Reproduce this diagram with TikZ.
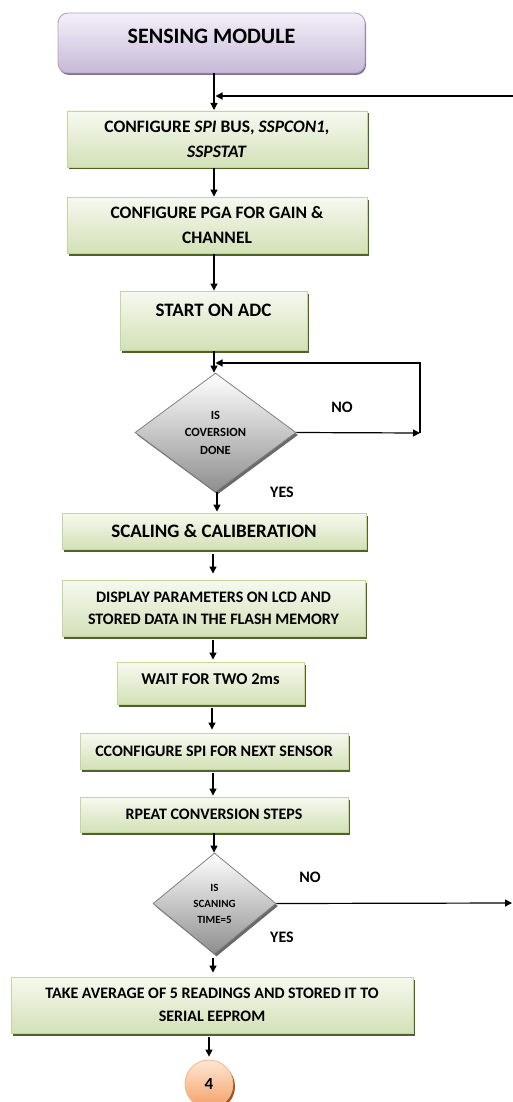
\documentclass[tikz,border=0pt]{standalone}
\usepackage{fontspec}
\setmainfont{Carlito}
\usetikzlibrary{shapes.geometric,shadows,arrows.meta}

% box colours
\definecolor{gtop}{HTML}{F6F9F0}
\definecolor{gbot}{HTML}{D3E1B7}
\definecolor{gborder}{HTML}{C3D69B}
\definecolor{gshadow}{HTML}{4F6228}
\definecolor{ptop}{HTML}{F4F0F8}
\definecolor{pbot}{HTML}{C6B9D8}
\definecolor{pborder}{HTML}{B3A2C7}
\definecolor{pshadow}{HTML}{5F4F73}
\definecolor{dbot}{HTML}{8E8E8E}
\definecolor{dborder}{HTML}{808080}
\definecolor{dshadow}{HTML}{6A6A6A}
\definecolor{otop}{HTML}{FDE7D5}
\definecolor{obot}{HTML}{F4A066}
\definecolor{oborder}{HTML}{F2B88A}
\definecolor{oshadow}{HTML}{A5521E}

\newcommand\setfs[2]{\fontsize{#1}{#2}\selectfont}

\begin{document}
\begin{tikzpicture}[x=1pt,y=-1pt,
  arr/.style={-{Triangle[length=7pt,width=7pt]}, line width=1.2pt, black},
  gbox/.style={draw=gborder, line width=0.9pt, top color=gtop, bottom color=gbot,
    align=center, inner sep=2pt, font=\setfs{16}{22}\bfseries,
    drop shadow={shadow xshift=2pt, shadow yshift=-2.5pt, fill=gshadow, opacity=1}},
  pbox/.style={draw=pborder, line width=0.9pt, top color=ptop, bottom color=pbot,
    rounded corners=10pt, align=center, font=\setfs{22}{25}\bfseries,
    drop shadow={shadow xshift=1pt, shadow yshift=-2pt, fill=pshadow, opacity=0.8}},
  dec/.style={diamond, draw=dborder, line width=0.8pt, top color=white, bottom color=dbot,
    inner sep=0pt, align=center,
    drop shadow={shadow xshift=2pt, shadow yshift=-2.5pt, fill=dshadow, opacity=1}},
  conn/.style={circle, draw=oborder, line width=0.8pt, top color=otop, bottom color=obot,
    minimum size=48pt, inner sep=0pt, font=\setfs{17}{20}\bfseries,
    drop shadow={shadow xshift=2pt, shadow yshift=-2.5pt, fill=oshadow, opacity=1}},
  lbl/.style={font=\setfs{16}{20}\bfseries, inner sep=0pt}
]
\useasboundingbox (0,0) rectangle (513,1102);

% process boxes
\node[pbox, minimum width=307pt, minimum height=60pt, text height=13pt, text depth=12pt]
  (start) at (211.5,43) {SENSING MODULE};
\node[gbox, minimum width=300pt, minimum height=56pt, font=\setfs{17.5}{25}\bfseries]
  (spi) at (217,139) {CONFIGURE \textit{SPI} BUS, \textit{SSPCON1,}\\\textit{SSPSTAT}};
\node[gbox, minimum width=300pt, minimum height=56pt, font=\setfs{17.5}{25}\bfseries]
  (pga) at (217,225) {CONFIGURE PGA FOR GAIN \&\\CHANNEL};
\node[gbox, minimum width=187pt, minimum height=59pt, font=\setfs{19}{22}\bfseries,
  text height=12pt, text depth=21pt]
  (adc) at (213.5,320.5) {START ON ADC};
\node[dec, minimum width=161pt, minimum height=119pt, font=\setfs{12.5}{17.5}\bfseries]
  (done) at (215.5,432.5) {IS\\COVERSION\\DONE};
\node[gbox, minimum width=304pt, minimum height=36pt, font=\setfs{19}{22}\bfseries]
  (scale) at (214,531) {SCALING \& CALIBERATION};
\node[gbox, minimum width=303pt, minimum height=56pt]
  (lcd) at (213.5,608) {DISPLAY PARAMETERS ON LCD AND\\STORED DATA IN THE FLASH MEMORY};
\node[gbox, minimum width=187pt, minimum height=42pt, font=\setfs{16.5}{22}\bfseries,
  text height=11pt, text depth=8pt]
  (wait) at (210.5,683) {WAIT FOR TWO 2ms};
\node[gbox, minimum width=268pt, minimum height=36pt]
  (next) at (214,751) {CCONFIGURE SPI FOR NEXT SENSOR};
\node[gbox, minimum width=268pt, minimum height=35pt]
  (rep) at (214,814.5) {RPEAT CONVERSION STEPS};
\node[dec, minimum width=123pt, minimum height=101pt, font=\setfs{11}{16}\bfseries]
  (scan) at (214.5,903.5) {IS\\SCANING\\TIME=5};
\node[gbox, minimum width=402pt, minimum height=56pt, font=\setfs{16}{23}\bfseries]
  (avg) at (212,1005) {TAKE AVERAGE OF 5 READINGS AND STORED IT TO\\SERIAL EEPROM};
\node[conn] (four) at (209,1084) {4};

% branch labels
\node[lbl] (no1) at (342,407) {NO};
\node[lbl] (yes1) at (282,492) {YES};
\node[lbl] (no2) at (310,877) {NO};
\node[lbl] (yes2) at (282,937) {YES};

% loose ends on the right edge
\coordinate (ret) at (513,96);
\coordinate (out) at (512,903);
\coordinate (loop) at (420,433);

% main flow
\draw[arr] (start.south -| 214,0) -- (214,110);
\draw[arr] (ret) -- (215.5,96);
\draw[arr] ([yshift=-1pt]spi.south -| 214,0) -- (pga.north -| 214,0);
\draw[arr] ([yshift=-1pt]pga.south -| 214,0) -- (adc.north -| 214,0);
\draw[arr] ([yshift=-1pt]adc.south -| 214,0) -- (done.north -| 214,0);
\draw[arr] (done.east) -- (loop);
\draw[arr] (loop) |- (215.5,363);
\draw[arr] (done.south -| 217,0) -- ([yshift=1pt]scale.north -| 217,0);
\draw[arr] ([yshift=-5pt]scale.south -| 213,0) -- ([yshift=6pt]lcd.north -| 213,0);
\draw[arr] ([yshift=-4pt]lcd.south -| 213,0) -- ([yshift=2pt]wait.north -| 213,0);
\draw[arr] ([yshift=-4pt]wait.south -| 212,0) -- ([yshift=3pt]next.north -| 212,0);
\draw[arr] ([yshift=-4pt]next.south -| 213,0) -- ([yshift=1pt]rep.north -| 213,0);
\draw[arr] ([yshift=-1pt]rep.south -| 214,0) -- (scan.north -| 214,0);
\draw[arr] (scan.east) -- (out);
\draw[arr] ([yshift=-4pt]scan.south -| 213,0) -- ([yshift=4pt]avg.north -| 213,0);
\draw[arr] ([yshift=-4pt]avg.south -| 209,0) -- ([yshift=3pt]four.north);
\end{tikzpicture}
\end{document}
